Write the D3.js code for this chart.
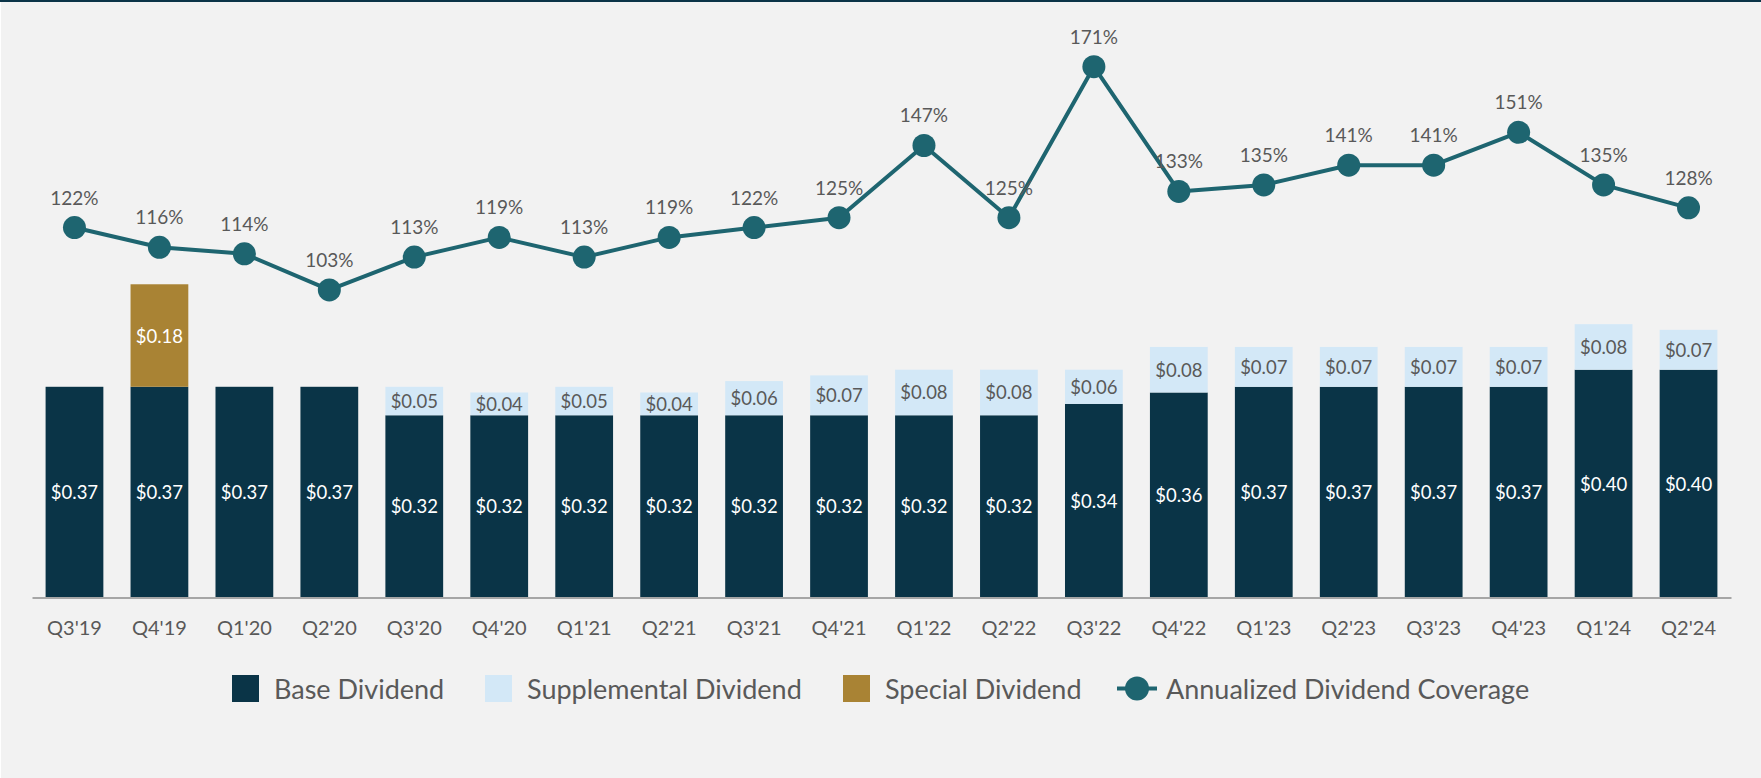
<!DOCTYPE html>
<html>
<head>
<meta charset="utf-8">
<script src="https://cdn.jsdelivr.net/npm/d3@7"></script>
<style>
  html, body { margin: 0; padding: 0; background: #f2f2f2; }
  svg { display: block; }
  text { font-family: Lato, "Open Sans", sans-serif; }
</style>
</head>
<body>
<svg id="chart" width="1761" height="778"></svg>
<script>
const categories = ["Q3'19","Q4'19","Q1'20","Q2'20","Q3'20","Q4'20","Q1'21","Q2'21","Q3'21","Q4'21","Q1'22","Q2'22","Q3'22","Q4'22","Q1'23","Q2'23","Q3'23","Q4'23","Q1'24","Q2'24"];
const baseDividend = [0.37,0.37,0.37,0.37,0.32,0.32,0.32,0.32,0.32,0.32,0.32,0.32,0.34,0.36,0.37,0.37,0.37,0.37,0.40,0.40];
const supplementalDividend = [0,0,0,0,0.05,0.04,0.05,0.04,0.06,0.07,0.08,0.08,0.06,0.08,0.07,0.07,0.07,0.07,0.08,0.07];
const specialDividend = [0,0.18,0,0,0,0,0,0,0,0,0,0,0,0,0,0,0,0,0,0];
const coverage = [122,116,114,103,113,119,113,119,122,125,147,125,171,133,135,141,141,151,135,128];
const legendLabels = ["Base Dividend","Supplemental Dividend","Special Dividend","Annualized Dividend Coverage"];

const COLORS = { base: "#0a3447", supp: "#d3e8f7", special: "#a98334", line: "#1e6570", text: "#595959", axis: "#a6a6a6" };

const svg = d3.select("#chart");
svg.append("rect").attr("x",0).attr("y",0).attr("width",1761).attr("height",778).attr("fill","#f2f2f2");
svg.append("rect").attr("x",0).attr("y",0).attr("width",1).attr("height",778).attr("fill","#ffffff");
svg.append("rect").attr("x",0).attr("y",0).attr("width",1761).attr("height",2).attr("fill","#0b3448");

const x = d3.scaleBand().domain(categories).range([32, 1731]).paddingInner(0.32).paddingOuter(0.16);
const yBar = d3.scaleLinear().domain([0, 0.6]).range([597.5, 597.5 - 0.6 * 569.5]);
const yLine = d3.scaleLinear().domain([100, 171]).range([299.8, 66.7]);

const fmt = v => "$" + v.toFixed(2);

const rows = categories.map((c, i) => ({
  c, base: baseDividend[i], supp: supplementalDividend[i], special: specialDividend[i], cov: coverage[i]
}));

const g = svg.append("g");

// base bars
g.selectAll("rect.base").data(rows).join("rect").attr("class","base")
  .attr("x", d => x(d.c)).attr("width", x.bandwidth())
  .attr("y", d => yBar(d.base)).attr("height", d => yBar(0) - yBar(d.base))
  .attr("fill", COLORS.base);

// supplemental bars
g.selectAll("rect.supp").data(rows.filter(d => d.supp > 0)).join("rect").attr("class","supp")
  .attr("x", d => x(d.c)).attr("width", x.bandwidth())
  .attr("y", d => yBar(d.base + d.supp)).attr("height", d => yBar(d.base) - yBar(d.base + d.supp))
  .attr("fill", COLORS.supp);

// special bars
g.selectAll("rect.special").data(rows.filter(d => d.special > 0)).join("rect").attr("class","special")
  .attr("x", d => x(d.c)).attr("width", x.bandwidth())
  .attr("y", d => yBar(d.base + d.special)).attr("height", d => yBar(d.base) - yBar(d.base + d.special))
  .attr("fill", COLORS.special);

// bar labels
g.selectAll("text.baseLbl").data(rows).join("text").attr("class","baseLbl")
  .attr("x", d => x(d.c) + x.bandwidth()/2)
  .attr("y", d => (yBar(0) + yBar(d.base))/2)
  .attr("text-anchor","middle").attr("dominant-baseline","central")
  .attr("font-size", 18.5).attr("fill", "#ffffff").text(d => fmt(d.base));

g.selectAll("text.suppLbl").data(rows.filter(d => d.supp > 0)).join("text").attr("class","suppLbl")
  .attr("x", d => x(d.c) + x.bandwidth()/2)
  .attr("y", d => (yBar(d.base) + yBar(d.base + d.supp))/2)
  .attr("text-anchor","middle").attr("dominant-baseline","central")
  .attr("font-size", 18.5).attr("fill", COLORS.text).text(d => fmt(d.supp));

g.selectAll("text.specLbl").data(rows.filter(d => d.special > 0)).join("text").attr("class","specLbl")
  .attr("x", d => x(d.c) + x.bandwidth()/2)
  .attr("y", d => (yBar(d.base) + yBar(d.base + d.special))/2)
  .attr("text-anchor","middle").attr("dominant-baseline","central")
  .attr("font-size", 18.5).attr("fill", "#ffffff").text(d => fmt(d.special));

// x axis
const xAxis = d3.axisBottom(x).tickSize(0).tickPadding(0);
const axG = svg.append("g").attr("transform", `translate(0,${yBar(0)})`).call(xAxis);
axG.select(".domain").attr("stroke", COLORS.axis).attr("stroke-width", 2);
axG.selectAll(".tick text").attr("font-size", 20).attr("fill", COLORS.text)
  .attr("font-family","Lato, sans-serif").attr("dy", null).attr("y", 37);

// coverage line
const line = d3.line().x(d => x(d.c) + x.bandwidth()/2).y(d => yLine(d.cov));
svg.append("path").datum(rows).attr("d", line).attr("fill","none")
  .attr("stroke", COLORS.line).attr("stroke-width", 4).attr("stroke-linejoin","round");
svg.selectAll("circle.dot").data(rows).join("circle").attr("class","dot")
  .attr("cx", d => x(d.c) + x.bandwidth()/2).attr("cy", d => yLine(d.cov))
  .attr("r", 11.5).attr("fill", COLORS.line);
svg.selectAll("text.covLbl").data(rows).join("text").attr("class","covLbl")
  .attr("x", d => x(d.c) + x.bandwidth()/2).attr("y", d => yLine(d.cov) - 23)
  .attr("text-anchor","middle").attr("font-size", 19).attr("fill", COLORS.text)
  .text(d => d.cov + "%");

// legend
const leg = svg.append("g");
const legendItems = [
  { label: legendLabels[0], type: "rect", color: COLORS.base, x: 232 },
  { label: legendLabels[1], type: "rect", color: COLORS.supp, x: 485 },
  { label: legendLabels[2], type: "rect", color: COLORS.special, x: 843 },
  { label: legendLabels[3], type: "line", color: COLORS.line, x: 1117 }
];
const legY = 688.5;
legendItems.forEach(it => {
  if (it.type === "rect") {
    leg.append("rect").attr("x", it.x).attr("y", legY - 13.5).attr("width", 27).attr("height", 27).attr("fill", it.color);
    leg.append("text").attr("x", it.x + 42).attr("y", legY).attr("dominant-baseline","central")
      .attr("font-size", 27).attr("fill", COLORS.text).text(it.label);
  } else {
    leg.append("line").attr("x1", it.x).attr("x2", it.x + 40).attr("y1", legY).attr("y2", legY)
      .attr("stroke", it.color).attr("stroke-width", 4);
    leg.append("circle").attr("cx", it.x + 20).attr("cy", legY).attr("r", 12).attr("fill", it.color);
    leg.append("text").attr("x", it.x + 49).attr("y", legY).attr("dominant-baseline","central")
      .attr("font-size", 27).attr("fill", COLORS.text).text(it.label);
  }
});
</script>
</body>
</html>
